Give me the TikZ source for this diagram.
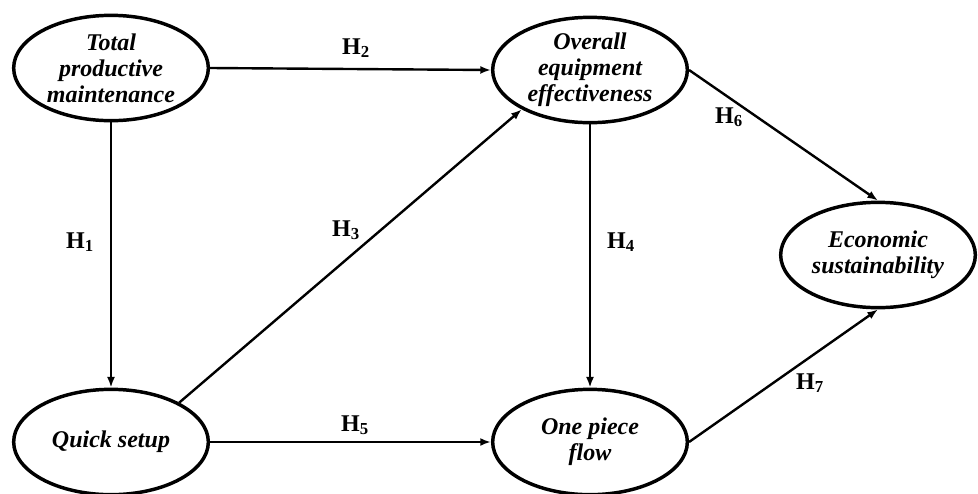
\documentclass[tikz,border=0pt]{standalone}
\usepackage{fontspec}
\setmainfont{Liberation Serif}
\usetikzlibrary{shapes.geometric,arrows.meta}
\begin{document}
\begin{tikzpicture}[x=0.75pt,y=-0.75pt]
\tikzstyle{construct} = [
  shape=ellipse,
  draw=black,
  line width=2.6pt,
  minimum width=146pt,
  minimum height=79pt,
  inner sep=0pt
]
\tikzstyle{ctext} = [
  align=center,
  font=\fontsize{18}{19.5}\selectfont\bfseries\itshape
]
\tikzstyle{hyp} = [
  font=\fontsize{18}{20}\selectfont\bfseries
]
\tikzstyle{path} = [
  draw=black,
  line width=1.8pt,
  -{Latex[length=8pt,width=6pt]}
]

\useasboundingbox (0,0) rectangle (978,493);

\node [construct, label={[ctext]center:Total\\productive\\maintenance}] (tpm) at (111,68) {};
\node [construct, label={[ctext]center:Overall\\equipment\\effectiveness}] (oee) at (590,70) {};
\node [construct, label={[ctext]center:Quick setup}] (qs) at (111,442) {};
\node [construct, label={[ctext]center:One piece\\flow}] (opf) at (590,442) {};
\node [construct, label={[ctext]center:Economic\\sustainability}] (es) at (878,255) {};

\draw[path] (tpm.south) -- (qs.north);
\draw[path] (tpm.east) -- (oee.west);
\draw[path] (qs.30) -- (oee.210);
\draw[path] (oee.south) -- (opf.north);
\draw[path] (qs.east) -- (opf.west);
\draw[path] (oee.east) -- (es.north);
\draw[path] (opf.east) -- (es.south);

\node [hyp] (h1) at (80,242) {H\textsubscript{1}};
\node [hyp] (h2) at (356,48) {H\textsubscript{2}};
\node [hyp] (h3) at (346,230) {H\textsubscript{3}};
\node [hyp] (h4) at (621,242) {H\textsubscript{4}};
\node [hyp] (h5) at (355,425) {H\textsubscript{5}};
\node [hyp] (h6) at (729,117) {H\textsubscript{6}};
\node [hyp] (h7) at (810,383) {H\textsubscript{7}};

\end{tikzpicture}
\end{document}
